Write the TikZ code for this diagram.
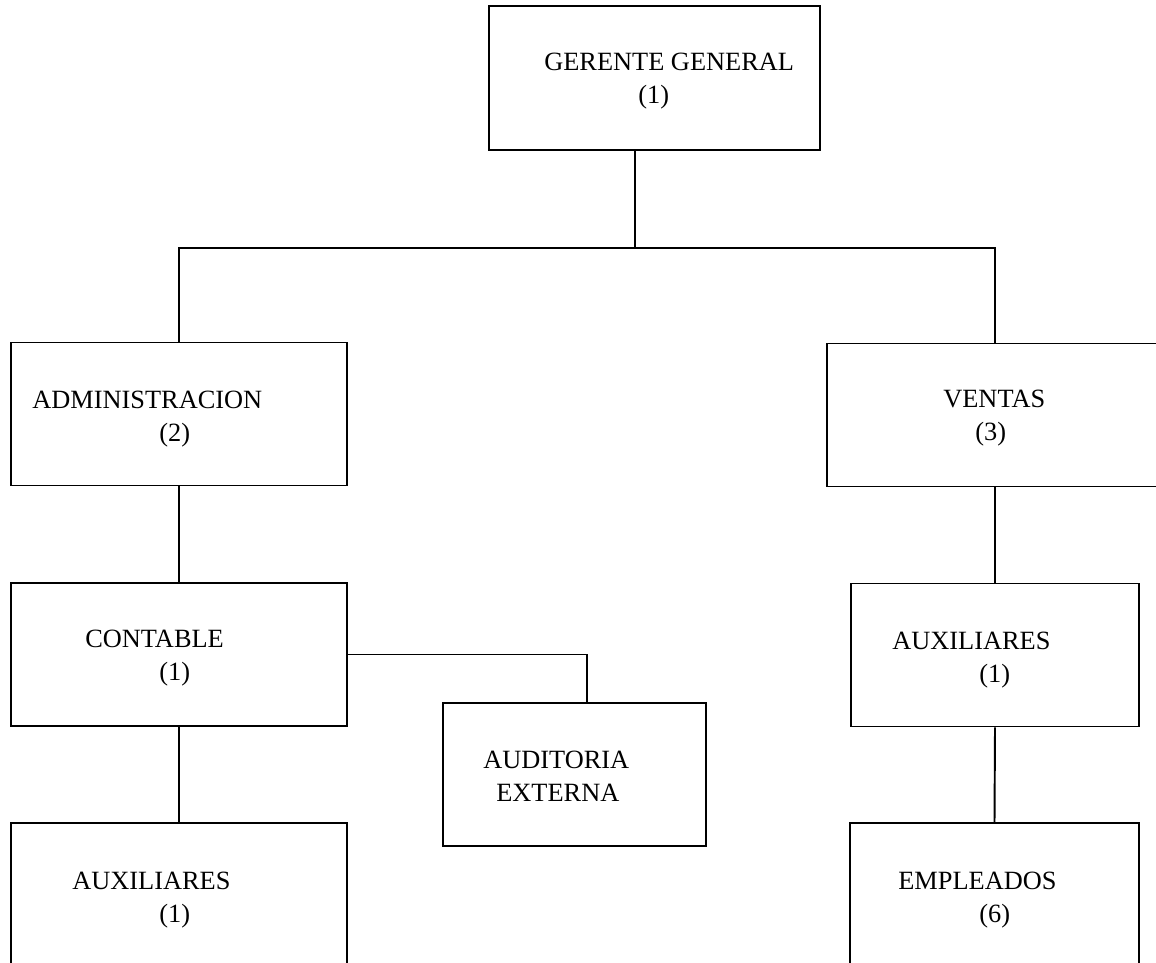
\documentclass[tikz,border=0pt]{standalone}
\usepackage{fontspec}
\setmainfont{Liberation Serif}
\usetikzlibrary{calc}
\tikzset{
  oBox/.style={draw,line width=1.1pt,inner sep=0pt,minimum width=#1,
        minimum height=2.86cm},
  oText/.style={anchor=north west,align=left,inner sep=0pt,
        font=\fontsize{15}{18.8}\selectfont},
  oLine/.style={line width=1.1pt},
}

\begin{document}
\begin{tikzpicture}[x=0.02cm,y=-0.02cm]
\useasboundingbox (0,0) rectangle (1156,963);
\clip (0,0) rectangle (1156,963);
% cajas
\node[oBox=6.62cm,minimum height=2.88cm] (ger) at (654.5,78) {};
\node[oBox=6.72cm] (adm) at (179,414) {};
\node[oBox=6.72cm] (ven) at (995,415) {};
\node[oBox=6.72cm] (con) at (179,654.5) {};
\node[oBox=5.26cm] (aud) at (574.5,774.5) {};
\node[oBox=5.76cm] (auxR) at (995,655) {};
\node[oBox=6.72cm] (auxL) at (179,894.5) {};
\node[oBox=5.78cm] (emp) at (994.5,894.5) {};
% textos
\node[oText] (gerT) at (544,53) {GERENTE GENERAL\\\hspace*{1.88cm}(1)};
\node[oText] (admT) at (32,391) {ADMINISTRACION\\\hspace*{2.54cm}(2)};
\node[oText] (venT) at (943,390) {VENTAS\\\hspace*{0.64cm}(3)};
\node[oText] (conT) at (85,630) {CONTABLE\\\hspace*{1.48cm}(1)};
\node[oText] (audT) at (483,751) {AUDITORIA\\\hspace*{0.26cm}EXTERNA};
\node[oText] (auxRT) at (892,632) {AUXILIARES\\\hspace*{1.74cm}(1)};
\node[oText] (auxLT) at (72,872) {AUXILIARES\\\hspace*{1.74cm}(1)};
\node[oText] (empT) at (898,872) {EMPLEADOS\\\hspace*{1.62cm}(6)};
% lineas
\coordinate (bus) at (635,248);
\draw[oLine] (ger.south -| bus) -- (bus);
\draw[oLine] (adm.north) |- (bus) -| (ven.north);
\draw[oLine] (adm.south) -- (con.north);
\draw[oLine] (con.south) -- (auxL.north);
\draw[oLine] (con.east) -| ([xshift=0.25cm]aud.north);
\draw[oLine] (ven.south) -- (auxR.north);
\draw[oLine] (auxR.south) -- (emp.north);
\end{tikzpicture}
\end{document}
